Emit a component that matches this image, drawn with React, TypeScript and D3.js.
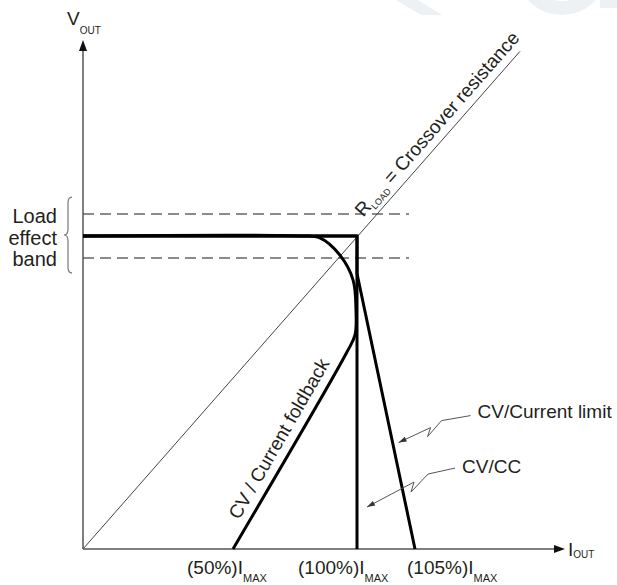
import React from "react";
import * as d3 from "d3";

const W = 617;
const H = 585;

// Output current in % of I_MAX (schematic axis with break points)
const currentStops = [0, 50, 100, 105, 125];
const currentTicks = [50, 100, 105];
const tickLabels = ["(50%)", "(100%)", "(105%)"];
// Output voltage in % of the CV set point
const voltageTop = 162.6;
const bandLevels = [93, 107];

// CV/CC characteristic
const ccI = [0, 100, 100];
const ccV = [100, 100, 0];
// CV/Current limit characteristic
const limitI = [0, 100, 100, 105];
const limitV = [100, 100, 88, 0];
// CV/Current foldback characteristic
const foldI = [0, 77, 85, 93, 98.4, 99.6, 99.2, 96, 50];
const foldV = [100, 100, 99.4, 94, 86, 76, 68.4, 63, 0];
// Load line (R_LOAD = crossover resistance)
const loadI = [0, 119];
const loadV = [0, 159];

const bandWords = ["Load", "effect", "band"];

const FONT = "'Liberation Sans', Arial, sans-serif";
const INK = "#231f20";

export default function App() {
  const x = d3.scaleLinear().domain(currentStops).range([83, 233, 357, 415, 565]);
  const y = d3.scaleLinear().domain([0, 100]).range([549, 236]);

  const x0 = x(0);
  const y0 = y(0);
  const yTop = y(voltageTop);
  const xEnd = x(currentStops[currentStops.length - 1]);

  const pts = (I: number[], V: number[]) => I.map((v, i) => [x(v), y(V[i])] as [number, number]);
  const lin = d3.line();
  const smooth = d3.line().curve(d3.curveCatmullRom.alpha(0.5));

  const ccPath = lin(pts(ccI, ccV))!;
  const limitPath = lin(pts(limitI, limitV))!;
  const foldPath = smooth(pts(foldI, foldV))!;
  const loadPts = pts(loadI, loadV);
  const loadPath = lin(loadPts)!;

  const along = (a: [number, number], b: [number, number], f: number, off: number) => {
    const dx = b[0] - a[0];
    const dy = b[1] - a[1];
    const L = Math.hypot(dx, dy);
    const ux = dx / L;
    const uy = dy / L;
    const nx = uy;
    const ny = -ux;
    const px = a[0] + dx * f + nx * off;
    const py = a[1] + dy * f + ny * off;
    const ang = (Math.atan2(dy, dx) * 180) / Math.PI;
    return `translate(${px},${py}) rotate(${ang})`;
  };

  const foldA: [number, number] = [x(foldI[8]), y(foldV[8])];
  const foldB: [number, number] = [x(foldI[7]), y(foldV[7])];

  const limTipV = 34;
  const limTipI = 105 - ((105 - 100) * limTipV) / limitV[2];
  const limTip: [number, number] = [x(limTipI) + 6, y(limTipV)];
  const ccTip: [number, number] = [x(100) + 10, y(13.4)];

  const limOff = [[72, -27], [43, -22], [29, -6], [32, -15], [0, 0]];
  const ccOff = [[88, -39], [61, -33], [44, -15], [47, -25], [0, 0]];
  const mk = (tip: [number, number], off: number[][]) =>
    off.map((o) => [tip[0] + o[0], tip[1] + o[1]] as [number, number]);
  const limArrow = mk(limTip, limOff);
  const ccArrow = mk(ccTip, ccOff);

  const head = (p: [number, number][], size = 8) => {
    const t = p[p.length - 1];
    const s = p[p.length - 2];
    const a = Math.atan2(t[1] - s[1], t[0] - s[0]);
    const bx = t[0] - Math.cos(a) * size;
    const by = t[1] - Math.sin(a) * size;
    const w = 2.6;
    return `M${t[0]},${t[1]}L${bx - Math.sin(a) * w},${by + Math.cos(a) * w}L${bx + Math.sin(a) * w},${by - Math.cos(a) * w}Z`;
  };

  const tickOffsets = [-46, -59, -8];

  const braceX = 68;
  const bt = y(bandLevels[1]) - 17;
  const bb = y(bandLevels[0]) + 15;
  const bm = (bt + bb) / 2;
  const brace = `M${braceX + 4},${bt} Q${braceX},${bt} ${braceX},${bt + 6} L${braceX},${bm - 6} Q${braceX},${bm} ${braceX - 4},${bm} Q${braceX},${bm} ${braceX},${bm + 6} L${braceX},${bb - 6} Q${braceX},${bb} ${braceX + 4},${bb}`;

  return (
    <svg width={W} height={H} style={{ position: "absolute", left: 0, top: 0, background: "#fff" }} fontFamily={FONT}>
      {/* faint watermark remnants at the top edge */}
      <path d="M396,0 L418,0 L442,15 L421,15 Z" fill="#edf1f4" />
      <ellipse cx={562} cy={-24} rx={36} ry={32} fill="none" stroke="#edf1f4" strokeWidth={14} />
      <rect x={600} y={0} width={17} height={8} fill="#edf1f4" />

      {bandLevels.map((v) => (
        <line key={v} x1={x0} x2={409} y1={y(v)} y2={y(v)} stroke="#666" strokeWidth={1.5} strokeDasharray="11,6" />
      ))}
      <path d={loadPath} fill="none" stroke="#444" strokeWidth={1} />

      <line x1={x0} y1={y0} x2={x0} y2={yTop + 8} stroke="#555" strokeWidth={1.5} />
      <path d={`M${x0},${yTop}L${x0 - 4},${yTop + 11}L${x0 + 4},${yTop + 11}Z`} fill="#111" />
      <line x1={x0} y1={y0} x2={xEnd - 8} y2={y0} stroke="#555" strokeWidth={1.5} />
      <path d={`M${xEnd},${y0}L${xEnd - 11},${y0 - 4}L${xEnd - 11},${y0 + 4}Z`} fill="#111" />

      <path d={foldPath} fill="none" stroke="#000" strokeWidth={3} strokeLinejoin="round" />
      <path d={limitPath} fill="none" stroke="#000" strokeWidth={3} strokeLinejoin="round" />
      <path d={ccPath} fill="none" stroke="#000" strokeWidth={3} strokeLinejoin="miter" />

      <path d={lin(limArrow)!} fill="none" stroke="#555" strokeWidth={1} />
      <path d={head(limArrow)} fill="#333" />
      <path d={lin(ccArrow)!} fill="none" stroke="#555" strokeWidth={1} />
      <path d={head(ccArrow)} fill="#333" />

      <text x={limArrow[0][0] + 7} y={418} fontSize={19} fill={INK}>CV/Current limit</text>
      <text x={ccArrow[0][0] + 7} y={473} fontSize={19} fill={INK}>CV/CC</text>

      <text transform={along(loadPts[0], loadPts[1], 0.655, 8)} fontSize={19} fill={INK}>
        R<tspan fontSize={9} dy={4}>LOAD</tspan>
        <tspan dy={-4}> = Crossover resistance</tspan>
      </text>
      <text transform={along(foldA, foldB, 0.52, 9)} fontSize={19} fill={INK} textAnchor="middle">
        CV / Current foldback
      </text>

      <text x={67} y={25} fontSize={19} fill={INK}>
        V<tspan fontSize={10} dy={9}>OUT</tspan>
      </text>
      <text x={xEnd + 3} y={556} fontSize={19} fill={INK}>
        I<tspan fontSize={10} dy={2}>OUT</tspan>
      </text>

      {currentTicks.map((t, i) => (
        <text key={t} x={x(t) + tickOffsets[i]} y={574} fontSize={19} fill={INK}>
          {tickLabels[i]}I<tspan fontSize={11} dy={8}>MAX</tspan>
        </text>
      ))}

      <path d={brace} fill="none" stroke="#777" strokeWidth={1.2} />
      {bandWords.map((s, i) => (
        <text key={s} x={57} y={223 + i * 21.5} fontSize={20} fill={INK} textAnchor="end">
          {s}
        </text>
      ))}
    </svg>
  );
}
